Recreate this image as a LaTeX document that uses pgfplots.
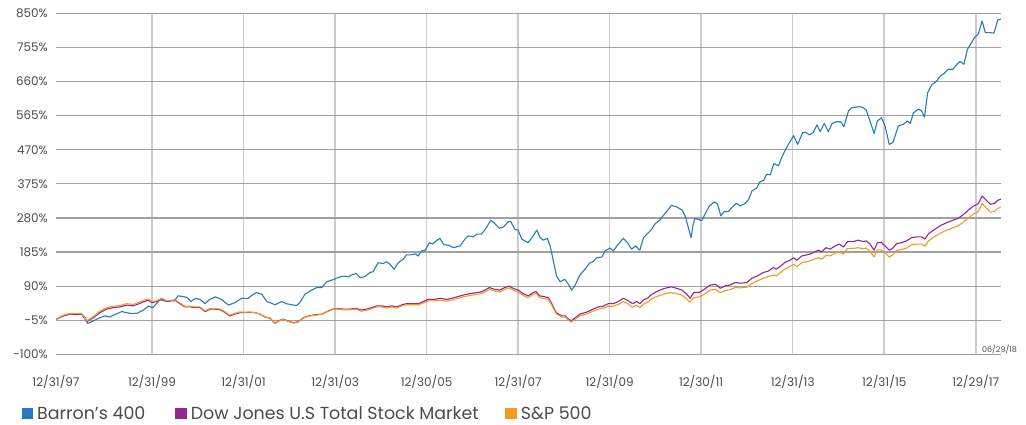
\documentclass[border=0pt]{standalone}
\usepackage{pgfplots}
\pgfplotsset{compat=1.18}
\usepackage{fontspec}
\setmainfont{Poppins}
\definecolor{cblue}{RGB}{38,122,190}
\definecolor{cpurple}{RGB}{146,39,143}
\definecolor{corange}{RGB}{247,152,35}
\definecolor{gridH}{RGB}{160,160,160}
\definecolor{gridV}{RGB}{204,204,204}
\definecolor{labelgray}{RGB}{75,75,75}
\begin{document}
\begin{tikzpicture}[x=1bp,y=1bp]
\useasboundingbox (-56,-69.7) rectangle (970,354.3);
\begin{axis}[
  at={(0,0)}, anchor=south west,
  width=945bp, height=341bp, scale only axis,
  xmin=1997.902, xmax=2018.553, ymin=-100, ymax=850,
  ytick={-100,-5,90,185,280,375,470,565,660,755,850},
  yticklabels={-100\%,-5\%,90\%,185\%,280\%,375\%,470\%,565\%,660\%,755\%,850\%},
  xtick={2000,2002,2004,2006,2008,2010,2012,2014,2016,2018},
  xticklabels={12/31/99,12/31/01,12/31/03,12/30/05,12/31/07,12/31/09,12/30/11,12/31/13,12/31/15,12/29/17},
  extra x ticks={1997.902}, extra x tick labels={12/31/97},
  extra x tick style={grid=none},
  ymajorgrids, xmajorgrids,
  y grid style={color=gridH, line width=1.2bp},
  x grid style={color=gridV, line width=1.6bp},
  axis line style={draw=none},
  major tick length=0pt,
  tick label style={font=\fontsize{12}{14}\selectfont, text=labelgray},
  yticklabel style={anchor=east, inner sep=0pt, xshift=-8bp},
  xticklabel style={anchor=north, inner sep=0pt, yshift=-20.5bp},
  every axis plot/.append style={line width=1.1bp, line join=round},
]
\addplot[cblue, mark=none] table {
1997.90 -3
1998.06 7
1998.21 13
1998.32 10
1998.46 12
1998.54 2
1998.59 -14
1998.72 -7
1998.86 2
1998.97 7
1999.08 4
1999.23 13
1999.34 19
1999.52 14
1999.67 14
1999.81 23
1999.92 34
2000.02 30
2000.17 52
2000.28 49
2000.39 49
2000.50 51
2000.57 63
2000.68 61
2000.77 58
2000.85 47
2000.95 56
2001.05 53
2001.16 41
2001.25 52
2001.38 60
2001.52 53
2001.67 37
2001.81 44
2001.96 56
2002.10 56
2002.21 67
2002.29 72
2002.40 67
2002.51 47
2002.58 44
2002.69 38
2002.83 47
2002.94 41
2003.05 38
2003.16 36
2003.23 44
2003.34 67
2003.49 79
2003.60 86
2003.71 86
2003.82 102
2003.96 108
2004.07 114
2004.18 118
2004.29 116
2004.36 121
2004.46 125
2004.55 114
2004.65 116
2004.76 128
2004.83 130
2004.94 155
2005.05 153
2005.13 158
2005.20 151
2005.29 137
2005.38 155
2005.49 165
2005.56 177
2005.67 177
2005.75 180
2005.82 174
2005.89 188
2005.97 190
2006.06 211
2006.13 207
2006.21 216
2006.29 223
2006.38 205
2006.48 204
2006.59 197
2006.73 202
2006.84 221
2006.91 230
2007.02 227
2007.10 235
2007.20 235
2007.31 253
2007.40 274
2007.47 267
2007.59 251
2007.68 255
2007.79 270
2007.84 270
2007.93 248
2008.00 246
2008.08 221
2008.22 211
2008.33 230
2008.41 246
2008.48 225
2008.55 218
2008.64 223
2008.70 202
2008.77 160
2008.84 118
2008.92 102
2009.02 109
2009.10 95
2009.17 79
2009.24 91
2009.35 121
2009.46 137
2009.57 155
2009.64 158
2009.72 169
2009.83 171
2009.90 188
2010.01 196
2010.08 188
2010.19 207
2010.30 223
2010.39 211
2010.48 193
2010.57 202
2010.66 190
2010.74 225
2010.85 239
2010.92 249
2010.99 263
2011.10 274
2011.17 286
2011.26 300
2011.35 315
2011.46 311
2011.58 302
2011.65 286
2011.72 253
2011.78 225
2011.82 258
2011.86 278
2011.94 276
2012.01 272
2012.09 292
2012.18 313
2012.29 325
2012.36 318
2012.43 286
2012.50 297
2012.60 298
2012.67 309
2012.77 321
2012.85 313
2012.96 320
2013.04 332
2013.11 355
2013.21 363
2013.29 381
2013.37 385
2013.43 402
2013.51 400
2013.59 431
2013.69 425
2013.76 448
2013.83 467
2013.93 490
2014.02 509
2014.11 485
2014.22 518
2014.29 518
2014.37 511
2014.45 518
2014.53 539
2014.60 520
2014.69 543
2014.78 520
2014.86 543
2014.96 548
2015.05 548
2015.12 534
2015.22 578
2015.29 587
2015.40 589
2015.47 590
2015.54 587
2015.61 580
2015.69 550
2015.78 515
2015.85 550
2015.94 559
2016.02 536
2016.11 485
2016.19 490
2016.24 509
2016.31 536
2016.42 541
2016.51 550
2016.57 543
2016.64 573
2016.75 583
2016.82 578
2016.88 561
2016.95 629
2017.04 651
2017.14 660
2017.23 676
2017.31 682
2017.40 694
2017.50 694
2017.59 708
2017.66 716
2017.74 708
2017.82 750
2017.90 766
2017.97 782
2018.06 793
2018.14 829
2018.21 796
2018.31 796
2018.40 795
2018.48 831
2018.55 834
};
\addplot[cpurple, mark=none] table {
1997.90 -3
1998.06 7
1998.21 12
1998.35 12
1998.46 12
1998.54 -2
1998.57 -9
1998.72 2
1998.86 16
1999.01 26
1999.15 30
1999.30 32
1999.45 37
1999.59 35
1999.70 40
1999.81 46
1999.92 51
1999.99 44
2000.10 47
2000.21 54
2000.32 47
2000.43 49
2000.52 49
2000.61 41
2000.72 32
2000.83 32
2000.94 30
2001.05 30
2001.16 19
2001.27 26
2001.38 26
2001.49 24
2001.60 16
2001.70 7
2001.81 12
2001.92 16
2002.03 16
2002.14 17
2002.25 16
2002.36 12
2002.47 4
2002.58 1
2002.69 -14
2002.76 -7
2002.86 -2
2002.97 -7
2003.09 -12
2003.20 -9
2003.31 2
2003.42 7
2003.56 10
2003.71 12
2003.82 19
2003.96 26
2004.07 27
2004.18 26
2004.33 26
2004.46 28
2004.58 23
2004.69 26
2004.80 30
2004.91 35
2005.02 35
2005.13 32
2005.24 35
2005.35 32
2005.46 38
2005.56 41
2005.71 41
2005.82 41
2005.93 47
2006.04 53
2006.18 53
2006.29 56
2006.44 53
2006.55 56
2006.66 60
2006.80 65
2006.95 69
2007.10 72
2007.20 74
2007.28 79
2007.37 86
2007.49 81
2007.60 79
2007.71 86
2007.81 90
2007.90 83
2008.00 79
2008.11 69
2008.22 63
2008.33 72
2008.39 75
2008.47 63
2008.59 60
2008.66 58
2008.74 40
2008.83 16
2008.96 7
2009.03 7
2009.10 -2
2009.16 -7
2009.24 1
2009.35 12
2009.46 16
2009.53 19
2009.64 26
2009.75 32
2009.86 34
2009.97 41
2010.08 41
2010.19 47
2010.30 56
2010.41 49
2010.50 41
2010.59 47
2010.66 41
2010.74 51
2010.85 58
2010.88 63
2010.99 72
2011.10 79
2011.21 84
2011.35 88
2011.46 84
2011.58 79
2011.69 67
2011.76 56
2011.84 72
2011.97 73
2012.09 83
2012.20 93
2012.31 95
2012.42 84
2012.53 91
2012.63 93
2012.74 100
2012.85 98
2013.00 100
2013.11 112
2013.22 118
2013.36 128
2013.47 132
2013.58 142
2013.64 137
2013.74 146
2013.83 156
2013.94 162
2014.02 169
2014.09 162
2014.20 174
2014.31 177
2014.42 181
2014.49 186
2014.56 190
2014.64 186
2014.73 197
2014.82 193
2014.93 202
2015.02 207
2015.11 199
2015.20 214
2015.33 214
2015.43 218
2015.54 214
2015.61 216
2015.69 207
2015.78 190
2015.85 211
2015.94 211
2016.02 202
2016.11 190
2016.19 196
2016.27 208
2016.38 211
2016.49 216
2016.60 225
2016.71 227
2016.82 227
2016.89 221
2016.97 236
2017.08 246
2017.22 258
2017.37 267
2017.51 274
2017.62 279
2017.74 290
2017.84 302
2017.95 313
2018.06 320
2018.14 341
2018.25 327
2018.32 318
2018.41 320
2018.48 329
2018.55 332
};
\addplot[corange, mark=none] table {
1997.90 -3
1998.06 9
1998.21 14
1998.35 14
1998.46 14
1998.54 0
1998.57 -7
1998.72 5
1998.86 20
1999.01 30
1999.15 34
1999.30 36
1999.45 41
1999.59 39
1999.70 44
1999.81 50
1999.92 54
1999.99 47
2000.10 49
2000.21 56
2000.32 49
2000.43 51
2000.52 51
2000.61 43
2000.72 34
2000.83 34
2000.94 32
2001.05 32
2001.16 21
2001.27 28
2001.38 28
2001.49 26
2001.60 18
2001.70 9
2001.81 14
2001.92 18
2002.03 17
2002.14 18
2002.25 16
2002.36 12
2002.47 4
2002.58 0
2002.69 -15
2002.76 -8
2002.86 -3
2002.97 -8
2003.09 -13
2003.20 -10
2003.31 1
2003.42 6
2003.56 9
2003.71 11
2003.82 18
2003.96 25
2004.07 26
2004.18 24
2004.33 24
2004.46 26
2004.58 20
2004.69 23
2004.80 27
2004.91 32
2005.02 32
2005.13 29
2005.24 32
2005.35 29
2005.46 35
2005.56 38
2005.71 38
2005.82 38
2005.93 43
2006.04 49
2006.18 49
2006.29 51
2006.44 48
2006.55 51
2006.66 55
2006.80 60
2006.95 64
2007.10 67
2007.20 69
2007.28 74
2007.37 81
2007.49 76
2007.60 74
2007.71 81
2007.81 85
2007.90 78
2008.00 74
2008.11 64
2008.22 58
2008.33 67
2008.39 70
2008.47 58
2008.59 55
2008.66 53
2008.74 36
2008.83 13
2008.96 4
2009.03 4
2009.10 -5
2009.16 -10
2009.24 -3
2009.35 7
2009.46 11
2009.53 14
2009.64 20
2009.75 26
2009.86 28
2009.97 34
2010.08 34
2010.19 39
2010.30 47
2010.41 40
2010.50 31
2010.59 37
2010.66 30
2010.74 40
2010.85 47
2010.88 51
2010.99 59
2011.10 64
2011.21 69
2011.35 72
2011.46 69
2011.58 65
2011.69 53
2011.76 45
2011.84 58
2011.97 60
2012.09 69
2012.20 79
2012.31 81
2012.42 71
2012.53 78
2012.63 80
2012.74 86
2012.85 85
2013.00 87
2013.11 97
2013.22 104
2013.36 112
2013.47 117
2013.58 121
2013.64 118
2013.74 128
2013.83 137
2013.94 144
2014.02 151
2014.09 144
2014.20 155
2014.31 158
2014.42 162
2014.49 166
2014.56 169
2014.64 165
2014.73 176
2014.82 174
2014.93 182
2015.02 186
2015.11 179
2015.20 195
2015.33 195
2015.43 197
2015.54 194
2015.61 196
2015.69 187
2015.78 171
2015.85 191
2015.94 191
2016.02 182
2016.11 171
2016.19 177
2016.27 189
2016.38 192
2016.49 196
2016.60 205
2016.71 207
2016.82 207
2016.89 201
2016.97 216
2017.08 226
2017.22 237
2017.37 246
2017.51 253
2017.62 258
2017.74 269
2017.84 280
2017.95 291
2018.06 298
2018.14 320
2018.25 305
2018.32 296
2018.41 298
2018.48 307
2018.55 309
};
\end{axis}
\node[font=\fontsize{8}{9}\selectfont, text=labelgray, inner sep=0pt] at (943.5,5.3) {06/29/18};
\tikzset{legtext/.style={anchor=base west, inner sep=0pt, text depth=0pt, font=\fontsize{17.5}{20}\selectfont, text=labelgray}}
\fill[cblue] (-34.3,-64.7) rectangle (-22.7,-53.7);
\node[legtext] at (-19,-65) {Barron’s 400};
\fill[cpurple] (119,-64.7) rectangle (130.7,-53.7);
\node[legtext] at (134.7,-65) {Dow Jones U.S Total Stock Market};
\fill[corange] (449,-64.7) rectangle (460.7,-53.7);
\node[legtext] at (464.7,-65) {S\&P 500};
\end{tikzpicture}
\end{document}
